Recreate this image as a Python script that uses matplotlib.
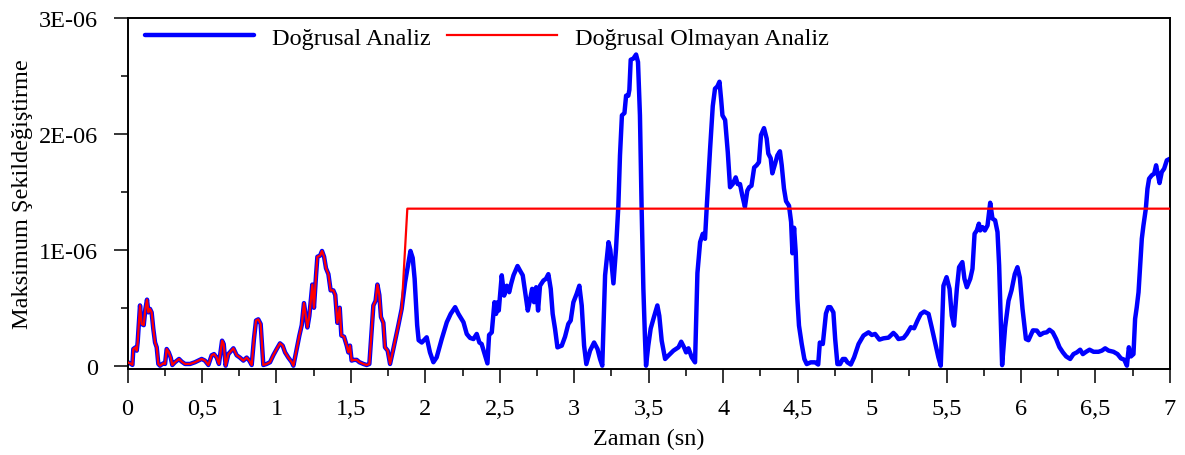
import numpy as np
import matplotlib
matplotlib.use("Agg")
import matplotlib.pyplot as plt
from matplotlib.ticker import MultipleLocator, FixedLocator, FixedFormatter

plt.rcParams['font.family'] = ['Liberation Serif', 'DejaVu Serif']

# Time (s) and maximum strain (x1E-06); both analyses coincide up to ~1.84 s
t_shared = [0.0, 0.018, 0.033, 0.039, 0.055, 0.062, 0.068, 0.084, 0.095, 0.109, 0.12, 0.131, 0.14, 0.151,
            0.162, 0.173, 0.185, 0.196, 0.207, 0.218, 0.24, 0.252, 0.263, 0.277, 0.29, 0.301, 0.319, 0.346,
            0.364, 0.386, 0.42, 0.453, 0.476, 0.498, 0.52, 0.543, 0.565, 0.581, 0.599, 0.614, 0.635, 0.646,
            0.659, 0.677, 0.711, 0.733, 0.755, 0.778, 0.80, 0.818, 0.834, 0.849, 0.863, 0.878, 0.894, 0.912,
            0.934, 0.957, 0.979, 1.002, 1.024, 1.042, 1.058, 1.08, 1.103, 1.114, 1.136, 1.154, 1.17, 1.185,
            1.197, 1.208, 1.221, 1.241, 1.252, 1.266, 1.275, 1.293, 1.306, 1.32, 1.333, 1.349, 1.364, 1.382,
            1.395, 1.409, 1.425, 1.436, 1.454, 1.472, 1.483, 1.494, 1.505, 1.52, 1.539, 1.557, 1.584, 1.606,
            1.624, 1.64, 1.651, 1.666, 1.678, 1.691, 1.702, 1.718, 1.729, 1.747, 1.763, 1.785, 1.819, 1.841]
v_shared = [0.03, 0.02, 0.007, 0.144, 0.159, 0.13, 0.20, 0.52, 0.36, 0.35, 0.49, 0.57, 0.46, 0.49,
            0.46, 0.32, 0.20, 0.159, 0.015, 0.0, 0.02, 0.015, 0.144, 0.115, 0.07, 0.006, 0.03, 0.058,
            0.035, 0.015, 0.015, 0.03, 0.044, 0.058, 0.044, 0.006, 0.09, 0.10, 0.07, 0.015, 0.216, 0.187,
            0.0, 0.10, 0.15, 0.09, 0.07, 0.044, 0.07, 0.044, 0.006, 0.23, 0.39, 0.40, 0.36, 0.006,
            0.015, 0.03, 0.09, 0.144, 0.193, 0.173, 0.115, 0.07, 0.03, 0.0, 0.144, 0.26, 0.35, 0.54,
            0.43, 0.33, 0.43, 0.70, 0.50, 0.78, 0.94, 0.95, 0.99, 0.94, 0.84, 0.79, 0.65, 0.65,
            0.61, 0.37, 0.50, 0.26, 0.25, 0.173, 0.115, 0.173, 0.044, 0.05, 0.05, 0.03, 0.015, 0.006,
            0.015, 0.32, 0.52, 0.56, 0.70, 0.61, 0.42, 0.37, 0.159, 0.13, 0.015, 0.144, 0.35, 0.49]

# Linear analysis after 1.84 s
t_linear = [1.864, 1.9, 1.915, 1.928, 1.945, 1.955, 1.976, 2.009, 2.031, 2.054, 2.076, 2.11, 2.144, 2.17,
            2.2, 2.222, 2.256, 2.278, 2.3, 2.323, 2.345, 2.363, 2.378, 2.401, 2.417, 2.428, 2.446, 2.464,
            2.475, 2.486, 2.493, 2.513, 2.529, 2.547, 2.563, 2.576, 2.592, 2.619, 2.636, 2.654, 2.67, 2.688,
            2.704, 2.717, 2.73, 2.744, 2.757, 2.77, 2.793, 2.81, 2.826, 2.842, 2.855, 2.871, 2.887, 2.916,
            2.938, 2.96, 2.976, 2.994, 3.016, 3.034, 3.05, 3.066, 3.081, 3.106, 3.133, 3.156, 3.173, 3.188,
            3.207, 3.23, 3.242, 3.263, 3.28, 3.296, 3.307, 3.32, 3.337, 3.348, 3.363, 3.37, 3.379, 3.397,
            3.415, 3.428, 3.441, 3.452, 3.464, 3.475, 3.482, 3.497, 3.513, 3.535, 3.558, 3.571, 3.587, 3.61,
            3.632, 3.666, 3.7, 3.718, 3.737, 3.751, 3.767, 3.789, 3.811, 3.827, 3.845, 3.863, 3.878, 3.89,
            3.912, 3.93, 3.945, 3.961, 3.975, 3.986, 3.995, 4.013, 4.031, 4.046, 4.064, 4.084, 4.097, 4.113,
            4.128, 4.146, 4.162, 4.175, 4.19, 4.208, 4.225, 4.24, 4.254, 4.274, 4.292, 4.303, 4.319, 4.33,
            4.348, 4.364, 4.381, 4.393, 4.408, 4.422, 4.442, 4.456, 4.465, 4.476, 4.487, 4.498, 4.509, 4.527,
            4.545, 4.561, 4.588, 4.617, 4.638, 4.649, 4.669, 4.69, 4.705, 4.72, 4.74, 4.752, 4.767, 4.785,
            4.803, 4.819, 4.834, 4.857, 4.879, 4.909, 4.942, 4.976, 4.998, 5.02, 5.049, 5.076, 5.11, 5.143,
            5.161, 5.177, 5.211, 5.233, 5.26, 5.282, 5.305, 5.327, 5.35, 5.379, 5.4, 5.423, 5.445, 5.461,
            5.479, 5.5, 5.52, 5.535, 5.55, 5.569, 5.584, 5.606, 5.62, 5.636, 5.659, 5.674, 5.688, 5.703,
            5.717, 5.726, 5.741, 5.757, 5.775, 5.793, 5.808, 5.826, 5.842, 5.853, 5.864, 5.873, 5.893, 5.916,
            5.936, 5.958, 5.976, 5.992, 6.01, 6.033, 6.05, 6.08, 6.106, 6.128, 6.151, 6.173, 6.191, 6.213,
            6.236, 6.258, 6.281, 6.303, 6.33, 6.352, 6.375, 6.397, 6.415, 6.437, 6.46, 6.487, 6.52, 6.543,
            6.565, 6.588, 6.621, 6.648, 6.671, 6.693, 6.711, 6.724, 6.738, 6.755, 6.766, 6.777, 6.789, 6.8,
            6.811, 6.822, 6.838, 6.849, 6.86, 6.878, 6.894, 6.907, 6.918, 6.93, 6.945, 6.961, 6.979, 7.0]
v_linear = [0.72, 0.99, 0.93, 0.75, 0.35, 0.22, 0.2, 0.245, 0.115, 0.03, 0.072, 0.23, 0.375, 0.447,
            0.505, 0.447, 0.375, 0.274, 0.24, 0.23, 0.274, 0.2, 0.187, 0.087, 0.02, 0.265, 0.288, 0.548,
            0.447, 0.548, 0.476, 0.78, 0.605, 0.69, 0.634, 0.706, 0.78, 0.86, 0.82, 0.78, 0.634, 0.476,
            0.576, 0.663, 0.548, 0.677, 0.476, 0.69, 0.735, 0.75, 0.79, 0.663, 0.447, 0.317, 0.158, 0.173,
            0.25, 0.36, 0.39, 0.547, 0.62, 0.69, 0.52, 0.173, 0.014, 0.13, 0.2, 0.144, 0.058, 0.0,
            0.78, 1.066, 1.0, 0.71, 1.0, 1.38, 1.815, 2.16, 2.18, 2.33, 2.33, 2.38, 2.64, 2.65,
            2.685, 2.62, 2.16, 1.38, 0.664, 0.23, 0.0, 0.174, 0.32, 0.42, 0.52, 0.43, 0.216, 0.058,
            0.087, 0.13, 0.159, 0.207, 0.159, 0.115, 0.15, 0.072, 0.029, 0.80, 1.066, 1.138, 1.095, 1.38,
            1.87, 2.24, 2.39, 2.41, 2.45, 2.30, 2.16, 2.12, 1.84, 1.54, 1.567, 1.625, 1.567, 1.567,
            1.47, 1.37, 1.51, 1.54, 1.553, 1.71, 1.73, 1.756, 1.99, 2.05, 1.96, 1.83, 1.79, 1.66,
            1.74, 1.815, 1.85, 1.73, 1.53, 1.42, 1.38, 1.24, 0.97, 1.19, 0.98, 0.578, 0.346, 0.19,
            0.058, 0.014, 0.029, 0.029, 0.01, 0.2, 0.187, 0.45, 0.505, 0.505, 0.46, 0.23, 0.014, 0.014,
            0.058, 0.058, 0.029, 0.01, 0.072, 0.187, 0.26, 0.288, 0.265, 0.274, 0.225, 0.236, 0.242, 0.283,
            0.26, 0.23, 0.239, 0.274, 0.332, 0.323, 0.39, 0.447, 0.467, 0.447, 0.332, 0.2, 0.072, 0.0,
            0.69, 0.764, 0.663, 0.432, 0.346, 0.663, 0.85, 0.894, 0.75, 0.677, 0.75, 0.836, 1.138, 1.167,
            1.225, 1.167, 1.196, 1.167, 1.21, 1.406, 1.27, 1.254, 1.153, 0.865, 0.404, 0.005, 0.33, 0.56,
            0.65, 0.79, 0.85, 0.76, 0.49, 0.23, 0.22, 0.305, 0.303, 0.265, 0.283, 0.288, 0.31, 0.288,
            0.23, 0.16, 0.115, 0.08, 0.058, 0.1, 0.115, 0.138, 0.1, 0.12, 0.138, 0.12, 0.12, 0.13,
            0.15, 0.13, 0.12, 0.1, 0.063, 0.052, 0.0, 0.159, 0.08, 0.1, 0.404, 0.504, 0.634, 0.865,
            1.095, 1.21, 1.354, 1.527, 1.614, 1.643, 1.657, 1.729, 1.657, 1.576, 1.671, 1.7, 1.772, 1.786]

# Nonlinear analysis after 1.84 s: jump to a constant plateau
t_nonlinear = [1.879, 7.0]
v_nonlinear = [1.355, 1.355]

x_ticks = [0, 0.5, 1, 1.5, 2, 2.5, 3, 3.5, 4, 4.5, 5, 5.5, 6, 6.5, 7]
x_tick_labels = ['0', '0,5', '1', '1,5', '2', '2,5', '3', '3,5', '4', '4,5', '5', '5,5', '6', '6,5', '7']
y_ticks = [0, 1e-6, 2e-6, 3e-6]
y_tick_labels = ['0', '1E-06', '2E-06', '3E-06']

scale = 1e-6
t_lin = np.array(t_shared + t_linear)
y_lin = np.array(v_shared + v_linear) * scale
t_nl = np.array(t_shared + t_nonlinear)
y_nl = np.array(v_shared + v_nonlinear) * scale

fs = 17.5
fig = plt.figure(figsize=(11.85, 4.56), dpi=100)
ax = fig.add_axes([0.1076, 0.1886, 0.8797, 0.7697])

ax.plot(t_lin, y_lin, color='#0000FF', lw=3.2, solid_joinstyle='round', solid_capstyle='round',
        label='Doğrusal Analiz', zorder=2)
ax.plot(t_nl, y_nl, color='#FF0000', lw=1.6, solid_joinstyle='round',
        label='Doğrusal Olmayan Analiz', zorder=3)

ax.set_xlim(0, 7)
ax.set_ylim(-0.0285e-6, 3e-6)

ax.xaxis.set_major_locator(FixedLocator(x_ticks))
ax.xaxis.set_major_formatter(FixedFormatter(x_tick_labels))
ax.xaxis.set_minor_locator(MultipleLocator(0.25))
ax.yaxis.set_major_locator(FixedLocator(y_ticks))
ax.yaxis.set_major_formatter(FixedFormatter(y_tick_labels))
ax.yaxis.set_minor_locator(MultipleLocator(0.5e-6))

ax.tick_params(which='both', direction='out', top=False, right=False, width=1.1, color='black',
               labelsize=fs)
ax.tick_params(which='major', length=10)
ax.tick_params(which='minor', length=5)
ax.tick_params(axis='x', which='major', pad=11)
ax.tick_params(axis='y', which='major', pad=11)

for s in ax.spines.values():
    s.set_linewidth(1.4)
    s.set_color('black')

ax.set_xlabel('Zaman (sn)', fontsize=fs)
ax.set_ylabel('Maksimum Şekildeğiştirme', fontsize=fs)
ax.xaxis.set_label_coords(0.5, -0.168)
ax.yaxis.set_label_coords(-0.0905, 0.5)

leg = ax.legend(loc='center left', bbox_to_anchor=(0.0168, 0.944), ncol=2, frameon=False,
                fontsize=fs, handlelength=4.5, handletextpad=0.74, columnspacing=0.66,
                borderpad=0, borderaxespad=0)

fig.savefig('out.png', dpi=100)
